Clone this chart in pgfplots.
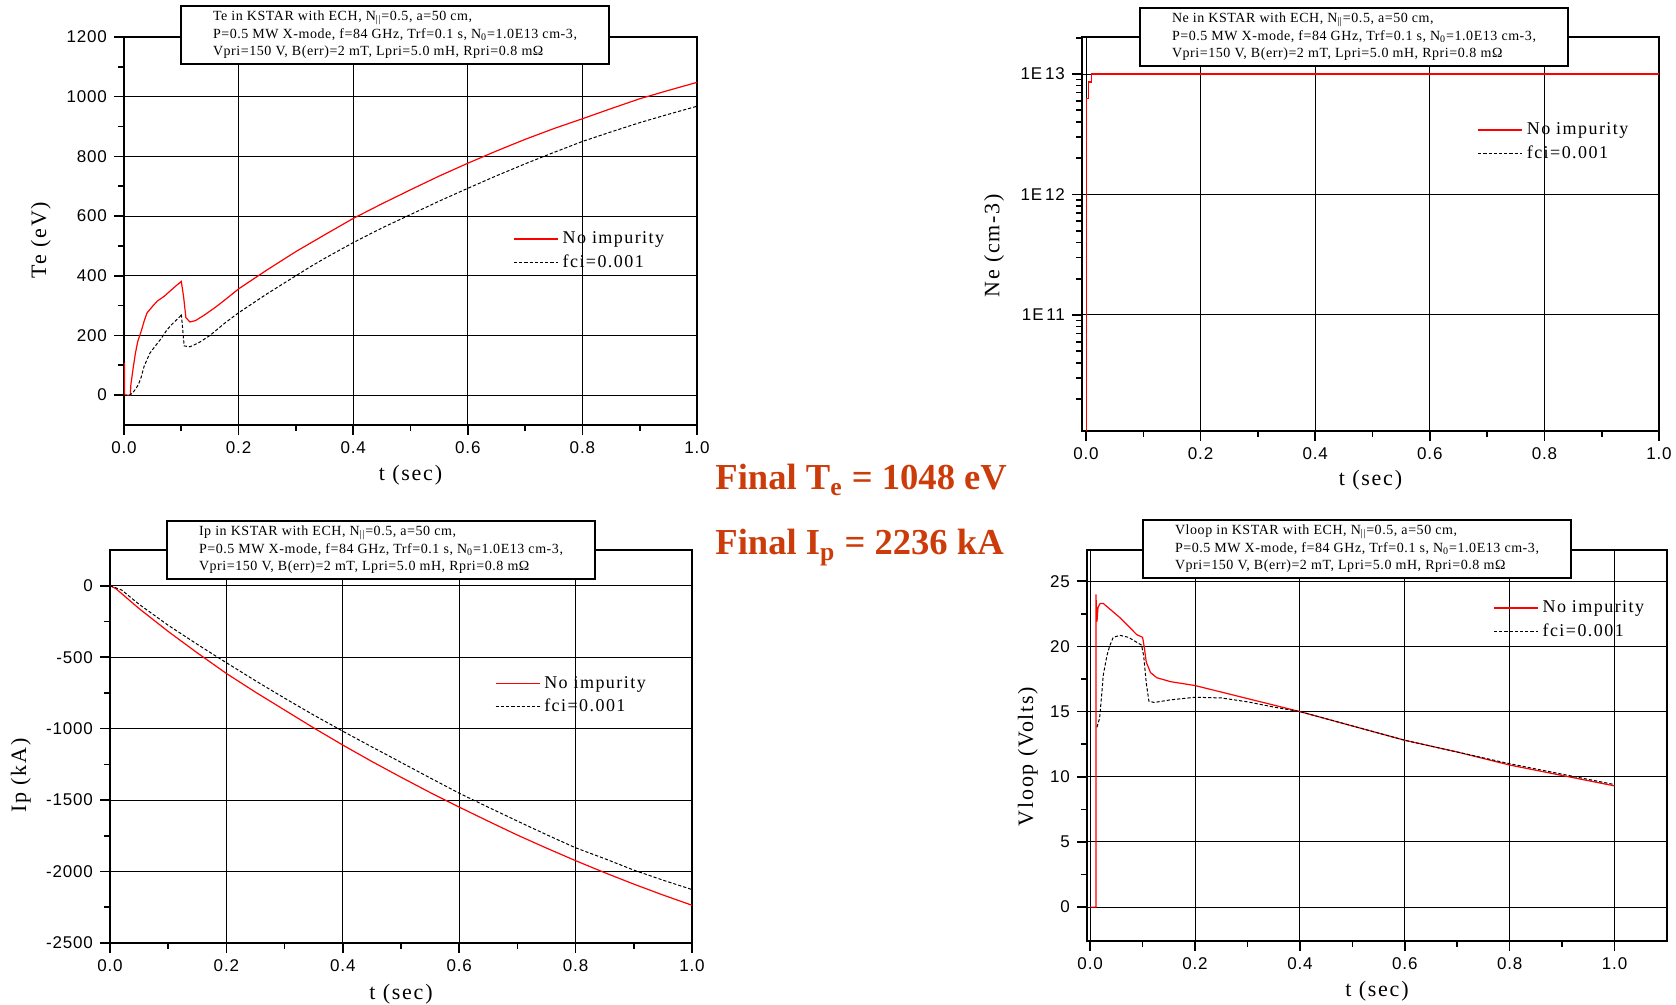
\documentclass[border=0pt]{standalone}
\usepackage{pgfplots}
\pgfplotsset{compat=1.18}
\usepackage{fontspec}
\setmainfont{Liberation Serif}
\newfontfamily\tickfont[LetterSpace=5]{Liberation Sans}
\newfontfamily\boxfont[LetterSpace=4]{Liberation Serif}
\newfontfamily\labfont[LetterSpace=8]{Liberation Serif}
\definecolor{finalc}{RGB}{204,60,10}
\pgfplotsset{
  kstar/.style={
    scale only axis,
    anchor=south west,
    axis line style={line width=1pt},
    tick align=outside,
    tick pos=left,
    major tick length=5pt,
    minor tick length=3pt,
    every tick/.append style={black, line width=0.8pt},
    grid=major,
    major grid style={black, line width=0.5pt},
    minor x tick num=1,
    tick label style={font=\tickfont\fontsize{8.5}{10}\selectfont},
    label style={font=\labfont\fontsize{11}{13}\selectfont},
    xtick={0,0.2,0.4,0.6,0.8,1},
    xticklabels={0.0,0.2,0.4,0.6,0.8,1.0},
    xlabel={t (sec)},
    legend style={draw=none, fill=none, font=\labfont\fontsize{9}{10}\selectfont, anchor=north west, inner sep=0pt, row sep=0pt},
    legend cell align=left,
    legend image code/.code={\draw[##1] (0pt,0pt) -- (22pt,0pt);},
  },
  redl/.style={red, line width=0.6pt},
  blkd/.style={black, line width=0.5pt, dash pattern=on 1.6pt off 1pt},
}
\begin{document}
\begin{tikzpicture}
\path[use as bounding box] (0,0) rectangle (838pt,502.5pt);

% ---------------- Te ----------------
\begin{axis}[kstar, at={(62pt,290pt)}, width=286.5pt, height=194pt,
  xmin=0, xmax=1, ymin=-100, ymax=1200,
  ytick={0,200,400,600,800,1000,1200},
  yticklabels={0,200,400,600,800,1000,1200},
  minor y tick num=1,
  ylabel={Te (eV)},
  x label style={at={(axis description cs:0.5,0)}, anchor=center, yshift=-25pt},
  y label style={at={(axis description cs:-0.145,0.477)}, anchor=center},
  legend style={at={(rel axis cs:0.679,0.51)}}]
\addplot[redl] coordinates {(0,0)(0,107)(0.001,107)(0.001,0)(0.011,0)(0.012,35)(0.016,91)(0.02,141)(0.024,180)(0.03,214)(0.035,247)(0.04,275)(0.05,298)(0.058,315)(0.07,331)(0.08,348)(0.09,365)(0.097,376)(0.1,381)(0.104,330)(0.108,260)(0.115,245)(0.125,250)(0.14,268)(0.16,295)(0.18,325)(0.2,356)(0.25,420)(0.3,481)(0.35,537)(0.4,592)(0.45,641)(0.5,688)(0.55,734)(0.6,777)(0.65,818)(0.7,857)(0.75,893)(0.8,926)(0.85,960)(0.9,993)(0.95,1021)(1.0,1048)};
\addlegendentry{No impurity}
\addplot[blkd] coordinates {(0,0)(0.01,0)(0.015,7)(0.02,20)(0.025,35)(0.03,60)(0.035,96)(0.045,140)(0.054,163)(0.065,190)(0.075,219)(0.085,240)(0.098,264)(0.1,272)(0.102,230)(0.105,165)(0.115,162)(0.13,175)(0.15,200)(0.175,240)(0.2,276)(0.25,340)(0.3,400)(0.325,430)(0.35,458)(0.4,511)(0.45,560)(0.5,605)(0.55,650)(0.6,693)(0.65,735)(0.7,775)(0.75,813)(0.8,850)(0.85,882)(0.9,913)(0.95,941)(1.0,968)};
\addlegendentry{fci=0.001}
\end{axis}

% ---------------- Ne ----------------
\begin{axis}[kstar, at={(541pt,287pt)}, width=288.5pt, height=197pt,
  xmin=-0.007, xmax=1, ymode=log, ymin=1.09e10, ymax=2.03e13,
  ytick={1e11,1e12,1e13},
  yticklabels={1E\,11,1E\,12,1E\,13},
  minor ytick={2e10,3e10,4e10,5e10,6e10,7e10,8e10,9e10,2e11,3e11,4e11,5e11,6e11,7e11,8e11,9e11,2e12,3e12,4e12,5e12,6e12,7e12,8e12,9e12,2e13},
  ylabel={Ne (cm-3)},
  x label style={at={(axis description cs:0.5,0)}, anchor=center, yshift=-24.5pt},
  y label style={at={(axis description cs:-0.1525,0.47)}, anchor=center},
  legend style={at={(rel axis cs:0.685,0.794)}}]
\addplot[blkd, forget plot] coordinates {(0.01,1e13)(1.0,1e13)};
\addplot[redl] coordinates {(0.001,1.09e10)(0.001,6.3e12)(0.005,6.3e12)(0.005,8.6e12)(0.01,8.6e12)(0.01,1e13)(1.0,1e13)};
\addlegendentry{No impurity}
\addlegendimage{blkd}
\addlegendentry{fci=0.001}
\end{axis}

% ---------------- Ip ----------------
\begin{axis}[kstar, at={(55pt,31pt)}, width=291pt, height=196.5pt,
  xmin=0, xmax=1, ymin=-2500, ymax=250,
  ytick={-2500,-2000,-1500,-1000,-500,0},
  yticklabels={-2500,-2000,-1500,-1000,-500,0},
  minor y tick num=1,
  ylabel={Ip (kA)},
  x label style={at={(axis description cs:0.5,0)}, anchor=center, yshift=-25.5pt},
  y label style={at={(axis description cs:-0.153,0.426)}, anchor=center},
  legend style={at={(rel axis cs:0.661,0.69)}}]
\addplot[redl] coordinates {(0,0)(0.01,-20)(0.05,-160)(0.1,-320)(0.15,-470)(0.2,-614)(0.25,-745)(0.3,-870)(0.35,-995)(0.4,-1115)(0.45,-1230)(0.5,-1340)(0.55,-1447)(0.6,-1549)(0.65,-1648)(0.7,-1745)(0.75,-1836)(0.8,-1924)(0.85,-2008)(0.9,-2088)(0.95,-2164)(1.0,-2236)};
\addlegendentry{No impurity}
\addplot[blkd] coordinates {(0,0)(0.02,-30)(0.05,-130)(0.1,-277)(0.15,-410)(0.2,-539)(0.25,-665)(0.3,-787)(0.35,-905)(0.4,-1018)(0.45,-1128)(0.5,-1236)(0.55,-1345)(0.6,-1452)(0.65,-1550)(0.7,-1647)(0.75,-1742)(0.8,-1834)(0.85,-1910)(0.9,-1990)(0.95,-2060)(1.0,-2126)};
\addlegendentry{fci=0.001}
\end{axis}

% ---------------- Vloop ----------------
\begin{axis}[kstar, at={(543.5pt,32pt)}, width=290pt, height=195.5pt,
  xmin=-0.006, xmax=1.1, ymin=-2.6, ymax=27.4,
  ytick={0,5,10,15,20,25},
  yticklabels={0,5,10,15,20,25},
  minor y tick num=1,
  ylabel={Vloop (Volts)},
  x label style={at={(axis description cs:0.5,0)}, anchor=center, yshift=-25pt},
  y label style={at={(axis description cs:-0.102,0.472)}, anchor=center},
  legend style={at={(rel axis cs:0.70,0.882)}}]
\addplot[redl] coordinates {(0,0)(0.011,0)(0.011,24.0)(0.013,21.9)(0.015,23.0)(0.019,23.3)(0.025,23.3)(0.057,22.2)(0.089,20.9)(0.1,20.7)(0.103,20.0)(0.107,18.8)(0.115,18.0)(0.127,17.6)(0.153,17.3)(0.2,17.0)(0.25,16.5)(0.3,16.0)(0.35,15.5)(0.4,15.0)(0.5,13.9)(0.6,12.8)(0.7,11.9)(0.8,10.9)(0.9,10.1)(1.0,9.3)};
\addlegendentry{No impurity}
\addplot[blkd] coordinates {(0.013,13.8)(0.018,14.5)(0.022,16.3)(0.025,17.8)(0.032,19.3)(0.037,20.0)(0.044,20.7)(0.057,20.85)(0.073,20.7)(0.098,20.1)(0.102,19.3)(0.107,17.2)(0.112,15.8)(0.122,15.7)(0.153,15.9)(0.2,16.1)(0.25,16.05)(0.3,15.75)(0.35,15.35)(0.4,15.0)(0.5,13.9)(0.6,12.8)(0.7,11.9)(0.8,11.0)(0.9,10.2)(1.0,9.4)};
\addlegendentry{fci=0.001}
\end{axis}

% ---------------- title boxes ----------------
\tikzset{tbox/.style={draw, line width=1pt, fill=white, minimum width=214pt, minimum height=29pt, inner sep=0pt, align=left}}
\newcommand\boxtxt[1]{\begin{minipage}{182pt}\boxfont\fontsize{7}{8.75}\selectfont
#1 in KSTAR with ECH, N\textsubscript{||}=0.5, a=50 cm,\\
P=0.5 MW X-mode, f=84 GHz, Trf=0.1 s, N\textsubscript{0}=1.0E13 cm-3,\\
Vpri=150 V, B(err)=2 mT, Lpri=5.0 mH, Rpri=0.8 mΩ\end{minipage}}
\node[tbox] at (197.5pt,485pt) {\boxtxt{Te}};
\node[tbox] at (677pt,484pt) {\boxtxt{Ne}};
\node[tbox] at (190.5pt,227.5pt) {\boxtxt{Ip}};
\node[tbox] at (678.5pt,228pt) {\boxtxt{Vloop}};

% ---------------- final values ----------------
\node[anchor=base west, text=finalc, font=\bfseries\fontsize{18.3}{20}\selectfont, inner sep=0pt] at (357.5pt,257.5pt) {Final T\textsubscript{e} = 1048 eV};
\node[anchor=base west, text=finalc, font=\bfseries\fontsize{18.3}{20}\selectfont, inner sep=0pt] at (357.5pt,225pt) {Final I\textsubscript{p} = 2236 kA};
\end{tikzpicture}
\end{document}
